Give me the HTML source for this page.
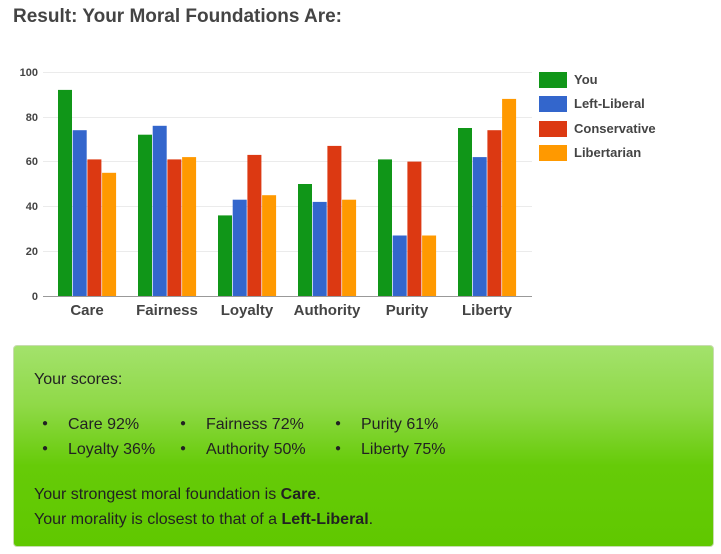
<!DOCTYPE html>
<html><head><meta charset="utf-8"><style>
body{margin:0;width:721px;height:554px;background:#fff;font-family:"Liberation Sans",sans-serif;overflow:hidden;position:relative}
h1{position:absolute;left:13px;top:6px;margin:0;font-size:19px;font-weight:bold;color:#444}
svg{position:absolute;left:0;top:0}
.box{position:absolute;left:13px;top:345px;width:699px;height:200px;border:1px solid #c8dcb0;border-radius:4px;background:linear-gradient(#a3e26c 0%,#8fd947 30%,#66cb08 60%,#60c800 100%);color:#222;font-size:16px}
.box p{margin:0;position:absolute;left:20px}
.li{position:absolute;font-size:16px}
.li:before{content:"●";position:absolute;left:-26px;top:2px;font-size:10px}
</style></head><body>
<h1>Result: Your Moral Foundations Are:</h1>
<svg width="721" height="340" font-family="Liberation Sans, sans-serif">
<g stroke="#ebebeb" stroke-width="1">
<line x1="43" x2="532" y1="72.5" y2="72.5"/><line x1="43" x2="532" y1="117.5" y2="117.5"/><line x1="43" x2="532" y1="161.5" y2="161.5"/><line x1="43" x2="532" y1="206.5" y2="206.5"/><line x1="43" x2="532" y1="251.5" y2="251.5"/>
</g>
<g font-size="11" font-weight="bold" fill="#444" text-anchor="end">
<text x="38" y="76">100</text><text x="38" y="121">80</text><text x="38" y="165">60</text><text x="38" y="210">40</text><text x="38" y="255">20</text><text x="38" y="300">0</text>
</g>
<g transform="translate(58,0)">
<rect x="0" y="89.9" width="14" height="206.1" fill="#109618"/><rect x="14.7" y="130.2" width="14" height="165.8" fill="#3366cc"/><rect x="29.4" y="159.4" width="14" height="136.6" fill="#dc3912"/><rect x="44.1" y="172.8" width="14" height="123.2" fill="#ff9900"/></g>
<g transform="translate(138,0)">
<rect x="0" y="134.7" width="14" height="161.3" fill="#109618"/><rect x="14.7" y="125.8" width="14" height="170.2" fill="#3366cc"/><rect x="29.4" y="159.4" width="14" height="136.6" fill="#dc3912"/><rect x="44.1" y="157.1" width="14" height="138.9" fill="#ff9900"/></g>
<g transform="translate(218,0)">
<rect x="0" y="215.4" width="14" height="80.6" fill="#109618"/><rect x="14.7" y="199.7" width="14" height="96.3" fill="#3366cc"/><rect x="29.4" y="154.9" width="14" height="141.1" fill="#dc3912"/><rect x="44.1" y="195.2" width="14" height="100.8" fill="#ff9900"/></g>
<g transform="translate(298,0)">
<rect x="0" y="184" width="14" height="112" fill="#109618"/><rect x="14.7" y="201.9" width="14" height="94.1" fill="#3366cc"/><rect x="29.4" y="145.9" width="14" height="150.1" fill="#dc3912"/><rect x="44.1" y="199.7" width="14" height="96.3" fill="#ff9900"/></g>
<g transform="translate(378,0)">
<rect x="0" y="159.4" width="14" height="136.6" fill="#109618"/><rect x="14.7" y="235.5" width="14" height="60.5" fill="#3366cc"/><rect x="29.4" y="161.6" width="14" height="134.4" fill="#dc3912"/><rect x="44.1" y="235.5" width="14" height="60.5" fill="#ff9900"/></g>
<g transform="translate(458,0)">
<rect x="0" y="128" width="14" height="168" fill="#109618"/><rect x="14.7" y="157.1" width="14" height="138.9" fill="#3366cc"/><rect x="29.4" y="130.2" width="14" height="165.8" fill="#dc3912"/><rect x="44.1" y="98.9" width="14" height="197.1" fill="#ff9900"/></g>
<line x1="43" x2="532" y1="296.5" y2="296.5" stroke="#999" stroke-width="1"/>
<g font-size="15" font-weight="bold" fill="#444" text-anchor="middle">
<text x="87" y="315">Care</text><text x="167" y="315">Fairness</text><text x="247" y="315">Loyalty</text><text x="327" y="315">Authority</text><text x="407" y="315">Purity</text><text x="487" y="315">Liberty</text>
</g>
<rect x="539" y="72" width="28" height="16" fill="#109618"/><rect x="539" y="96" width="28" height="16" fill="#3366cc"/><rect x="539" y="121" width="28" height="16" fill="#dc3912"/><rect x="539" y="145" width="28" height="16" fill="#ff9900"/>
<g font-size="13" font-weight="bold" fill="#444">
<text x="574" y="84">You</text><text x="574" y="108">Left-Liberal</text><text x="574" y="133">Conservative</text><text x="574" y="157">Libertarian</text>
</g>
</svg>
<div class="box">
<p style="top:25px">Your scores:</p>
<span class="li" style="left:54px;top:70px">Care 92%</span>
<span class="li" style="left:192px;top:70px">Fairness 72%</span>
<span class="li" style="left:347px;top:70px">Purity 61%</span>
<span class="li" style="left:54px;top:95px">Loyalty 36%</span>
<span class="li" style="left:192px;top:95px">Authority 50%</span>
<span class="li" style="left:347px;top:95px">Liberty 75%</span>
<p style="top:140px">Your strongest moral foundation is <b>Care</b>.</p>
<p style="top:165px">Your morality is closest to that of a <b>Left-Liberal</b>.</p>
</div>
</body></html>
